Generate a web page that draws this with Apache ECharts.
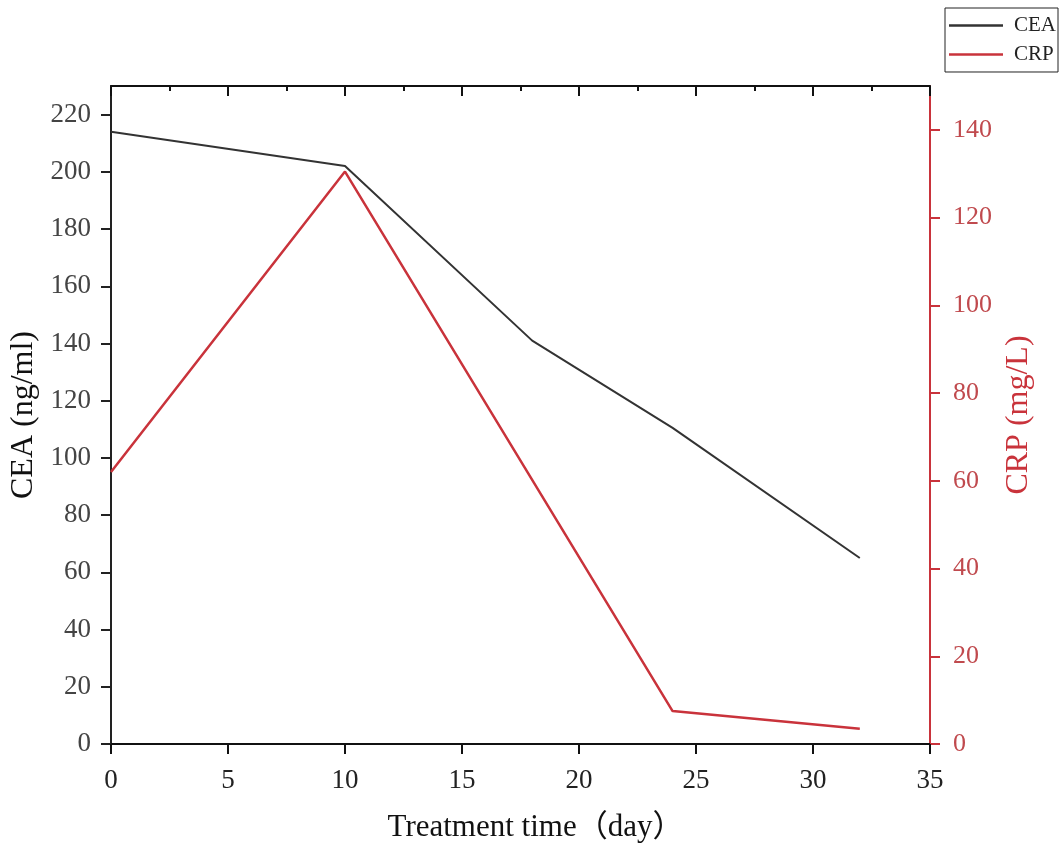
<!DOCTYPE html>
<html>
<head>
<meta charset="utf-8">
<script src="https://cdn.jsdelivr.net/npm/echarts@6/dist/echarts.min.js"></script>
<style>
  html, body { margin: 0; padding: 0; background: #fff; }
  #chart { width: 1063px; height: 859px; }
</style>
</head>
<body>
<div id="chart"></div>
<script>
// treatment days and measured values
const ceaDays = [0, 10, 18, 24, 32];
const ceaValues = [214, 202, 141, 110.5, 65];
const crpDays = [0, 10, 24, 32];
const crpValues = [62, 130.5, 7.5, 3.5];

const ceaTicks = [0, 20, 40, 60, 80, 100, 120, 140, 160, 180, 200, 220];
const crpTicks = [0, 20, 40, 60, 80, 100, 120, 140];

const serif = '"Liberation Serif", "Times New Roman", "Noto Sans CJK SC", serif';
const red = '#c9333b';

var chart = echarts.init(document.getElementById('chart'));

var option = {
  backgroundColor: '#fff',
  textStyle: { fontFamily: serif },
  legend: {
    orient: 'vertical',
    left: 945,
    top: 8,
    padding: [7, 2, 7, 4],
    itemGap: 8,
    icon: 'rect',
    itemWidth: 54,
    itemHeight: 2.5,
    borderColor: '#222',
    borderWidth: 1,
    textStyle: { fontFamily: serif, fontSize: 21, color: '#222', lineHeight: 20, padding: [0, 0, 0, 6] },
    data: ['CEA', 'CRP']
  },
  grid: { left: 111, right: 133, top: 86, bottom: 115, containLabel: false, outerBoundsMode: 'none' },
  xAxis: [
    {
      type: 'value',
      min: 0,
      max: 35,
      interval: 5,
      name: 'Treatment time（day）',
      nameLocation: 'middle',
      nameGap: 68,
      nameTextStyle: { fontFamily: serif, fontSize: 31, color: '#111', padding: [0, 0, 0, 30] },
      axisLine: { show: true, onZero: false, lineStyle: { color: '#111', width: 2 } },
      axisTick: { show: true, length: 10, lineStyle: { color: '#111', width: 2 } },
      axisLabel: { fontFamily: serif, fontSize: 27, color: '#222', margin: 23 },
      splitLine: { show: false }
    },
    {
      type: 'value',
      position: 'top',
      min: 0,
      max: 35,
      interval: 5,
      axisLine: { show: true, onZero: false, lineStyle: { color: '#111', width: 2 } },
      axisTick: { show: true, inside: true, length: 10, lineStyle: { color: '#111', width: 2 } },
      minorTick: { show: true, splitNumber: 2, length: 5, lineStyle: { color: '#111', width: 2 } },
      axisLabel: { show: false },
      splitLine: { show: false }
    }
  ],
  yAxis: [
    {
      type: 'value',
      min: 0,
      max: 230,
      name: 'CEA (ng/ml)',
      nameLocation: 'middle',
      nameRotate: 90,
      nameGap: 70,
      nameTextStyle: { fontFamily: serif, fontSize: 32, color: '#111' },
      axisLine: { show: true, onZero: false, lineStyle: { color: '#222', width: 2 } },
      axisTick: { show: true, length: 10, customValues: ceaTicks, lineStyle: { color: '#222', width: 2 } },
      axisLabel: { fontFamily: serif, fontSize: 27, color: '#444', margin: 20, customValues: ceaTicks },
      splitLine: { show: false }
    },
    {
      type: 'value',
      position: 'right',
      min: 0,
      max: 150,
      name: 'CRP (mg/L)',
      nameLocation: 'middle',
      nameRotate: 90,
      nameGap: 70,
      nameTextStyle: { fontFamily: serif, fontSize: 32, color: red },
      axisLine: { show: true, onZero: false, lineStyle: { color: red, width: 2 } },
      axisTick: { show: true, length: 10, customValues: crpTicks, lineStyle: { color: red, width: 2 } },
      axisLabel: { fontFamily: serif, fontSize: 26, color: '#c04a4e', margin: 23, customValues: crpTicks },
      splitLine: { show: false }
    }
  ],
  series: [
    {
      name: 'CEA',
      type: 'line',
      xAxisIndex: 0,
      yAxisIndex: 0,
      symbol: 'none',
      data: ceaDays.map((d, i) => [d, ceaValues[i]]),
      lineStyle: { color: '#333', width: 2 },
      itemStyle: { color: '#333' }
    },
    {
      name: 'CRP',
      type: 'line',
      xAxisIndex: 0,
      yAxisIndex: 1,
      symbol: 'none',
      data: crpDays.map((d, i) => [d, crpValues[i]]),
      lineStyle: { color: red, width: 2.5 },
      itemStyle: { color: red }
    }
  ]
};

chart.setOption(option);
</script>
</body>
</html>
